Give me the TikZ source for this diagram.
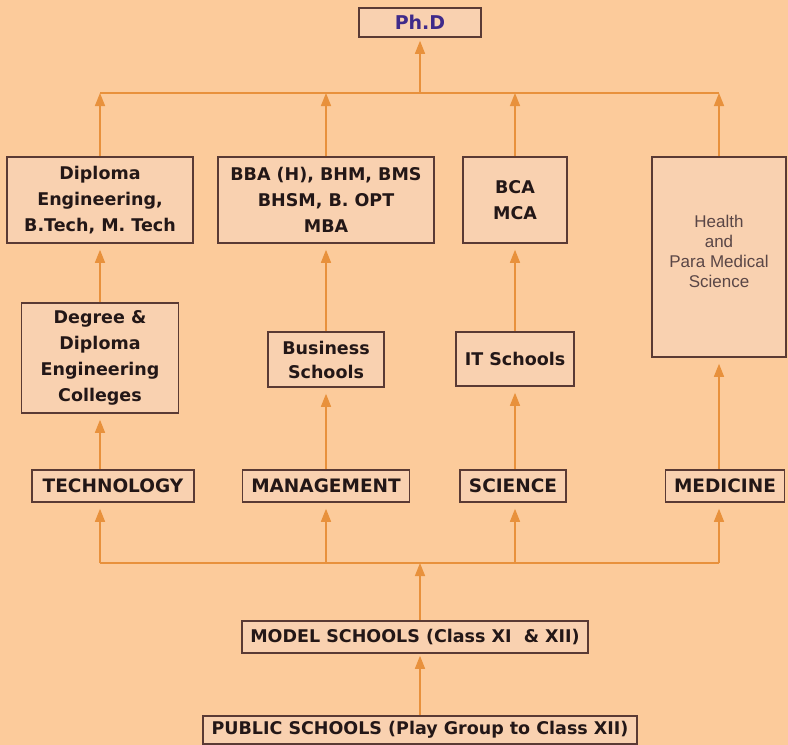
\documentclass[tikz,border=0pt]{standalone}
\usepackage{fontspec}
\setmainfont{DejaVu Sans}
\newfontfamily\healthfont{Liberation Sans}
\usetikzlibrary{arrows.meta}
\definecolor{peach}{HTML}{FCCB9B}
\definecolor{boxfill}{HTML}{F9D1B0}
\definecolor{boxline}{HTML}{5A3A34}
\definecolor{flow}{HTML}{E8913C}
\definecolor{inktext}{HTML}{231717}
\definecolor{phdtext}{HTML}{3F2A8A}
\definecolor{healthtext}{HTML}{5A4646}

\begin{document}
\begin{tikzpicture}[x=1pt, y=-1pt, >={Triangle[length=13pt,width=10pt]},
	box/.style={draw=boxline, fill=boxfill, line width=1.6pt, inner sep=0pt, align=center,
		text=inktext, font=\bfseries\fontsize{17.5}{26}\selectfont},
	catbox/.style={box, font=\bfseries\fontsize{18.5}{22}\selectfont, minimum height=32pt},
	flowline/.style={draw=flow, line width=1.5pt},
	upflow/.style={flowline, ->, shorten >=6pt}]
	\fill[peach] (0, 0) rectangle (788, 745);
	\useasboundingbox (0, 0) rectangle (788, 745);

	\node[box, text=phdtext, font=\bfseries\fontsize{19}{22}\selectfont, minimum width=122pt, minimum height=29pt] (phd) at (420, 22.5) {Ph.D};

	\node[box, minimum width=186pt, minimum height=86pt] (dip) at (100, 200) {Diploma\\Engineering,\\B.Tech, M. Tech};
	\node[box, minimum width=216pt, minimum height=86pt] (bba) at (326, 200) {BBA (H), BHM, BMS\\BHSM, B. OPT\\MBA};
	\node[box, minimum width=104pt, minimum height=86pt] (bca) at (515, 200) {BCA\\MCA};
	\node[box, minimum width=134pt, minimum height=200pt] (health) at (719, 257) {};
	\node[text=healthtext, font=\healthfont\fontsize{17}{20}\selectfont, align=center] (healthtxt) at (719, 251) {Health\\and\\Para Medical\\Science};

	\node[box, minimum width=157pt, minimum height=110pt] (degree) at (100, 358) {Degree \&\\Diploma\\Engineering\\Colleges};
	\node[box, font=\bfseries\fontsize{17.5}{24}\selectfont, minimum width=116pt, minimum height=55pt] (business) at (326, 359.5) {Business\\Schools};
	\node[box, minimum width=118pt, minimum height=54pt] (it) at (515, 359) {IT Schools};

	\node[catbox, minimum width=162pt] (tech) at (113, 486) {TECHNOLOGY};
	\node[catbox, minimum width=167pt] (mgmt) at (326, 486) {MANAGEMENT};
	\node[catbox, minimum width=106pt] (sci) at (513, 486) {SCIENCE};
	\node[catbox, minimum width=119pt] (med) at (725, 486) {MEDICINE};

	\node[box, minimum width=346pt, minimum height=32pt] (model) at (415, 637) {MODEL SCHOOLS (Class XI~~\& XII)};
	\node[box, minimum width=434pt, minimum height=28pt] (public) at (420, 730) {PUBLIC SCHOOLS (Play Group to Class XII)};

	\coordinate (topbus) at (420, 93);
	\coordinate (lowbus) at (420, 563);

	% to the Ph.D
	\draw[flowline] (topbus -| dip) -- (topbus -| health);
	\draw[upflow, shorten >=3pt] (topbus) -- (phd.south);
	\draw[flowline, ->] (dip.north) -- (dip.north |- topbus);
	\draw[flowline, ->] (bba.north) -- (bba.north |- topbus);
	\draw[flowline, ->] (bca.north) -- (bca.north |- topbus);
	\draw[flowline, ->] (health.north) -- (health.north |- topbus);

	% within each stream
	\draw[upflow] (degree.north) -- (dip.south);
	\draw[upflow] (business.north) -- (bba.south);
	\draw[upflow] (it.north -| bca) -- (bca.south);
	\draw[upflow] (med.north -| health) -- (health.south);
	\draw[upflow] (tech.north -| degree) -- (degree.south);
	\draw[upflow] (mgmt.north) -- (business.south);
	\draw[upflow] (sci.north -| it) -- (it.south);

	% from the model schools
	\draw[flowline] (lowbus -| degree) -- (lowbus -| health);
	\draw[upflow] (lowbus -| degree) -- (tech.south -| degree);
	\draw[upflow] (lowbus -| mgmt) -- (mgmt.south);
	\draw[upflow] (lowbus -| it) -- (sci.south -| it);
	\draw[upflow] (lowbus -| health) -- (med.south -| health);
	\draw[flowline, ->] (model.north -| lowbus) -- (lowbus);
	\draw[upflow, shorten >=2pt] (public.north) -- (public.north |- model.south);
\end{tikzpicture}
\end{document}
